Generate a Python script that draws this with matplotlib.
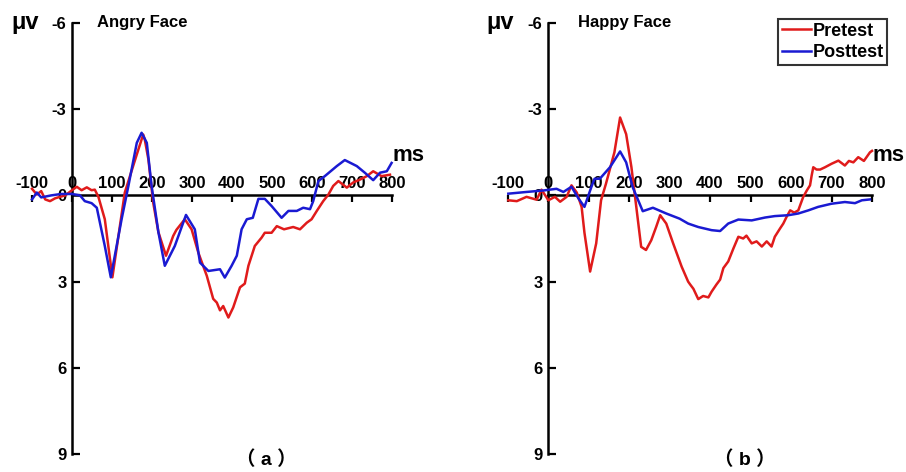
import matplotlib
matplotlib.use("Agg")
import matplotlib.pyplot as plt
import numpy as np

plt.rcParams['font.family'] = ['Liberation Sans', 'Noto Sans CJK SC']
plt.rcParams['font.weight'] = 'bold'
plt.rcParams['axes.unicode_minus'] = False

## data (ms, microvolt; positive drawn downward)

angry_pre_t = [-100, -88, -77, -67, -55, -42, -30, -17, 0, 12, 24, 37, 49, 57, 66, 82, 101,
               132, 158, 166, 178, 182, 191, 203, 216, 235, 253, 261, 282, 299, 316, 337,
               353, 362, 370, 378, 391, 403, 420, 432, 441, 457, 474, 482, 499, 512, 530,
               553, 570, 587, 599, 612, 628, 641, 653, 666, 687, 703, 720, 737, 753, 774,
               795]
angry_pre_v = [-0.23, -0.03, -0.15, 0.14, 0.2, 0.1, 0.05, 0.0, -0.18, -0.3, -0.18, -0.28,
               -0.18, -0.2, 0.05, 0.83, 2.85, -0.1, -1.25, -1.6, -2.12, -1.94, -1.25, 0.25,
               1.28, 2.1, 1.41, 1.2, 0.83, 1.18, 2.0, 2.8, 3.6, 3.73, 4.0, 3.85, 4.25, 3.9,
               3.2, 3.07, 2.45, 1.76, 1.47, 1.3, 1.3, 1.07, 1.18, 1.1, 1.18, 0.95, 0.83,
               0.54, 0.2, -0.03, -0.33, -0.5, -0.27, -0.45, -0.55, -0.67, -0.84, -0.67,
               -0.72]

angry_post_t = [-100, -88, -77, -52, -27, 0, 20, 32, 49, 62, 82, 97, 124, 141, 162, 174,
                187, 199, 216, 232, 257, 285, 307, 320, 341, 370, 382, 399, 412, 424, 437,
                452, 466, 482, 499, 524, 541, 562, 578, 595, 603, 616, 632, 662, 682, 712,
                732, 753, 770, 787, 799]
angry_post_v = [0.14, -0.1, 0.07, 0.0, -0.05, -0.05, 0.0, 0.2, 0.27, 0.43, 1.76, 2.85, 0.83,
                -0.33, -1.83, -2.18, -1.83, -0.33, 1.28, 2.45, 1.76, 0.68, 1.18, 2.34, 2.63,
                2.57, 2.86, 2.45, 2.1, 1.18, 0.83, 0.78, 0.12, 0.12, 0.37, 0.78, 0.54, 0.54,
                0.43, 0.48, 0.2, -0.5, -0.67, -1.02, -1.23, -1.02, -0.79, -0.53, -0.79,
                -0.84, -1.13]

happy_pre_t = [-98, -77, -53, -28, -16, 1, 17, 30, 46, 58, 71, 83, 90, 104, 119, 131, 143,
               164, 178, 193, 206, 218, 230, 242, 255, 267, 277, 292, 309, 330, 346, 351,
               359, 371, 383, 396, 404, 416, 425, 433, 445, 458, 470, 482, 490, 503, 515,
               528, 540, 552, 560, 573, 581, 589, 598, 608, 618, 630, 639, 647, 651, 655,
               663, 672, 684, 700, 717, 733, 743, 754, 766, 780, 795, 800]
happy_pre_v = [0.17, 0.2, 0.05, 0.15, -0.2, 0.17, 0.05, 0.22, 0.05, -0.35, -0.1, 0.4, 1.3,
               2.65, 1.67, 0.17, -0.4, -1.5, -2.71, -2.13, -0.98, 0.4, 1.79, 1.9, 1.56, 1.1,
               0.69, 0.98, 1.67, 2.48, 3.0, 3.1, 3.25, 3.61, 3.5, 3.55, 3.35, 3.1, 2.93,
               2.53, 2.3, 1.84, 1.44, 1.5, 1.4, 1.67, 1.6, 1.78, 1.6, 1.78, 1.44, 1.15, 0.98,
               0.75, 0.52, 0.6, 0.52, 0.06, -0.17, -0.35, -0.69, -0.98, -0.9, -0.9, -0.98,
               -1.1, -1.21, -1.04, -1.2, -1.15, -1.33, -1.2, -1.5, -1.55]

happy_post_t = [-98, -53, -12, 21, 38, 58, 75, 90, 107, 115, 128, 153, 178, 193, 209, 234,
                259, 292, 325, 346, 371, 404, 425, 445, 470, 503, 536, 560, 593, 618, 643,
                667, 700, 733, 758, 775, 795]
happy_post_v = [-0.06, -0.12, -0.17, -0.23, -0.12, -0.3, 0.1, 0.4, -0.29, -0.58, -0.58,
                -0.98, -1.53, -1.15, -0.29, 0.55, 0.43, 0.63, 0.81, 0.98, 1.1, 1.21, 1.24,
                0.98, 0.84, 0.87, 0.77, 0.72, 0.69, 0.63, 0.52, 0.4, 0.29, 0.23, 0.27, 0.17,
                0.14]

xticks = [-100, 0, 100, 200, 300, 400, 500, 600, 700, 800]
yticks = [-6, -3, 0, 3, 6, 9]

red = '#e01b1b'
blue = '#1a1ad2'

fig = plt.figure(figsize=(9.06, 4.72), dpi=100)
ax1 = fig.add_axes([32 / 906, 18 / 472, 360 / 906, 431 / 472])
ax2 = fig.add_axes([507.5 / 906, 18 / 472, 364.5 / 906, 431 / 472])

panels = [
    (ax1, angry_pre_t, angry_pre_v, angry_post_t, angry_post_v, 'Angry Face', 62, '（ a ）'),
    (ax2, happy_pre_t, happy_pre_v, happy_post_t, happy_post_v, 'Happy Face', 74, '（ b ）'),
]

for ax, pt, pv, qt, qv, title, title_x, tag in panels:
    ax.plot(pt, pv, color=red, lw=1.8, label='Pretest', clip_on=False, zorder=3)
    ax.plot(qt, qv, color=blue, lw=1.8, label='Posttest', clip_on=False, zorder=3)

    ax.set_xlim(-100, 800)
    ax.set_ylim(9, -6)

    ax.spines['right'].set_visible(False)
    ax.spines['bottom'].set_visible(False)
    ax.spines['left'].set_position(('data', 0))
    ax.spines['top'].set_position(('data', 0))
    ax.spines['top'].set_bounds(0, 800)
    for s in ['left', 'top']:
        ax.spines[s].set_linewidth(1.8)

    ax.xaxis.set_ticks_position('top')
    ax.set_xticks(xticks)
    ax.set_yticks(yticks)
    ax.tick_params(axis='x', direction='in', length=5, width=1.6, labelsize=12, pad=3)
    ax.tick_params(axis='y', direction='in', length=6, width=1.6, labelsize=12, pad=4)
    ax.get_xticklines()[0].set_visible(False)
    for lab in ax.get_xticklabels() + ax.get_yticklabels():
        lab.set_fontweight('bold')

    ax.text(-117, -6, 'μv', fontsize=17, fontweight='bold', ha='center', va='center')
    ax.text(title_x, -6, title, fontsize=12, fontweight='bold', ha='left', va='center')
    ax.text(840, -1.4, 'ms', fontsize=16, fontweight='bold', ha='center', va='center',
            clip_on=False)
    ax.text(485, 9.2, tag, fontsize=14, fontweight='bold', ha='center', va='center',
            clip_on=False)
    ax.patch.set_visible(False)

leg = ax2.legend(loc='upper left', bbox_to_anchor=(778 / 906, 1 - 19 / 472),
                 bbox_transform=fig.transFigure, fontsize=13, frameon=True,
                 fancybox=False, edgecolor='black', handlelength=1.6,
                 handletextpad=0.1, labelspacing=0.25, borderpad=0.2, borderaxespad=0)
leg.get_frame().set_linewidth(1.5)
for t in leg.get_texts():
    t.set_fontweight('bold')

fig.savefig('out.png', dpi=100)
